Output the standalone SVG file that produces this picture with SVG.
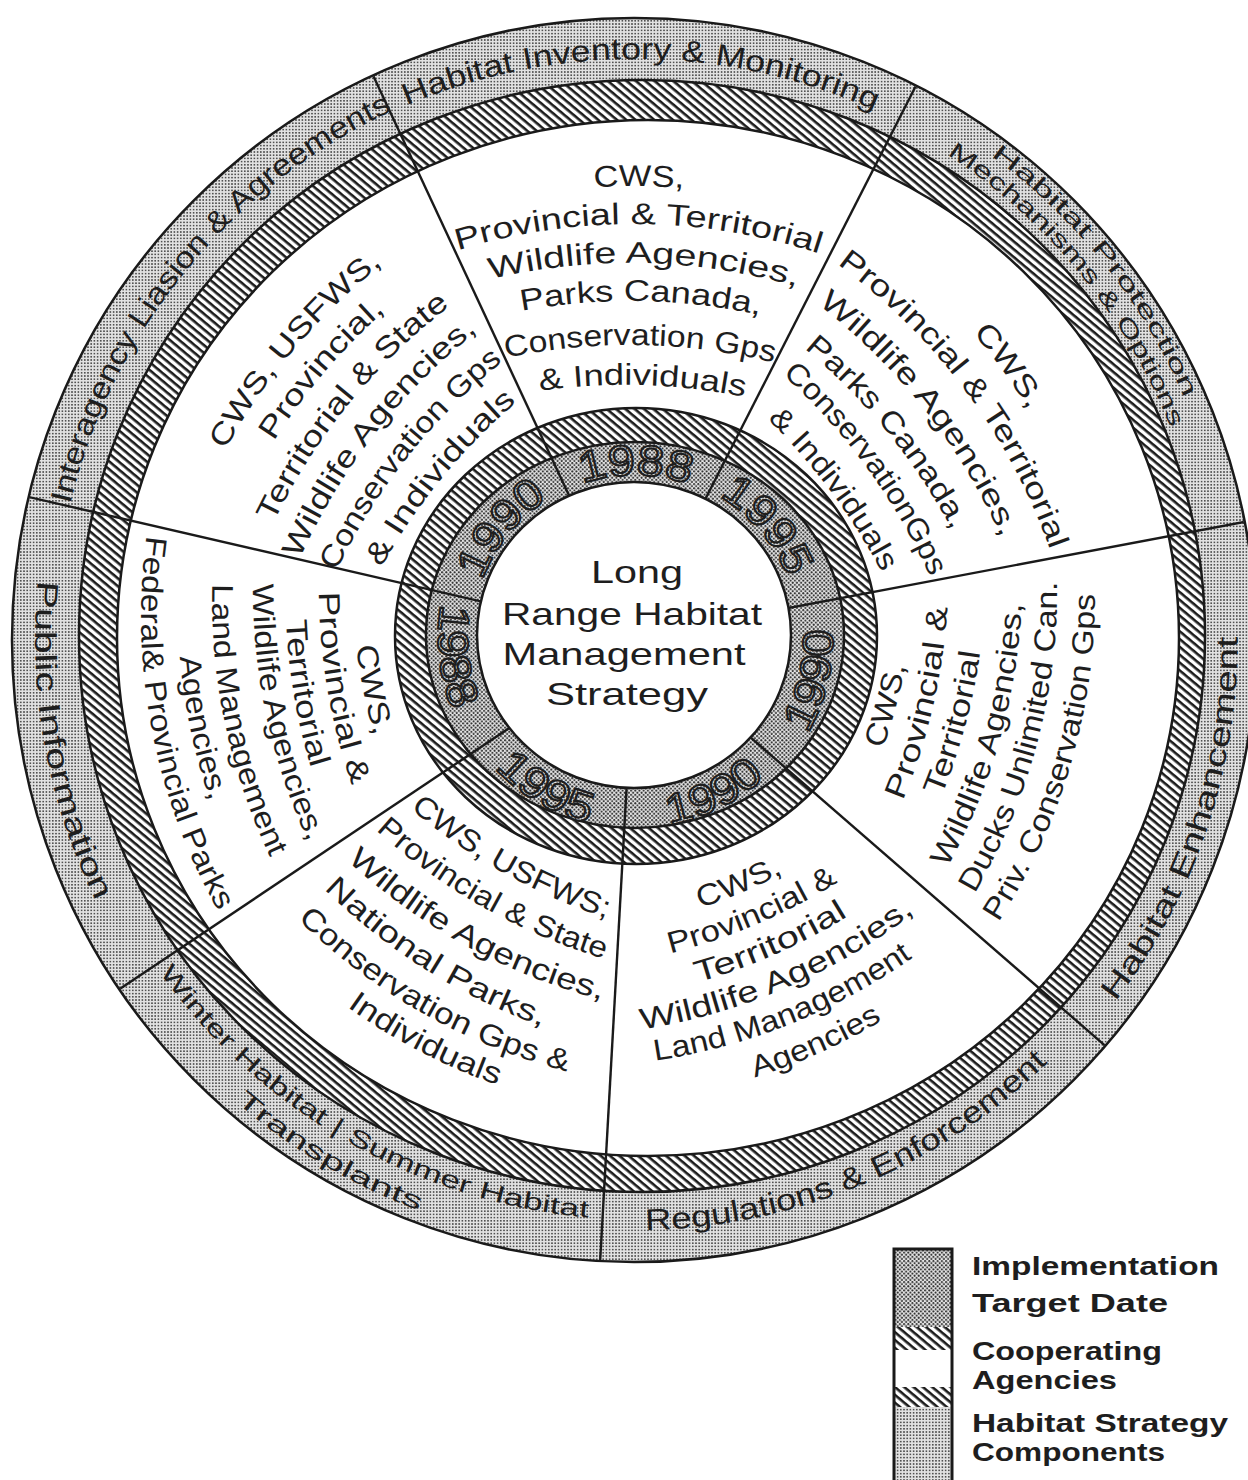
<svg xmlns="http://www.w3.org/2000/svg" width="1248" height="1480" viewBox="0 0 1248 1480">
  <style>
    text { font-family: "Liberation Sans", Arial, Helvetica, sans-serif; fill: #1e1e1e; }
    .ag { font-size: 30px; text-anchor: middle; }
    .ob { font-size: 30px; text-anchor: middle; }
    .ob2 { font-size: 23px; text-anchor: middle; }
    .ob3 { font-size: 24px; text-anchor: middle; }
    .dt { font-size: 43px; text-anchor: middle; fill: url(#dots); stroke: #1e1e1e; stroke-width: 2.1px; }
    .ctr { font-size: 32px; text-anchor: middle; }
    .lg { font-size: 26px; font-weight: bold; }
    .edge { stroke: #1a1a1a; stroke-width: 2.5; }
    .rad { stroke: #1a1a1a; stroke-width: 2.4; fill: none; }
  </style>
  <defs>
    <!-- screen tones -->
    <pattern id="hatch" width="6" height="6" patternUnits="userSpaceOnUse" patternTransform="rotate(40)">
      <rect width="6" height="6" fill="#ffffff"/>
      <rect width="6" height="2.6" fill="#1c1c1c"/>
    </pattern>
    <pattern id="dots" width="4.2" height="4.2" patternUnits="userSpaceOnUse">
      <rect width="4.2" height="4.2" fill="#e6e6e6"/>
      <circle cx="1.05" cy="1.05" r="1" fill="#2a2a2a"/>
      <circle cx="3.15" cy="3.15" r="1" fill="#2a2a2a"/>
    </pattern>
    <pattern id="fine" width="3.2" height="3.2" patternUnits="userSpaceOnUse">
      <rect width="3.2" height="3.2" fill="#e2e2e2"/>
      <circle cx="1.6" cy="1.6" r="0.88" fill="#2e2e2e"/>
    </pattern>
    <clipPath id="clipOuter">
      <circle cx="634" cy="640" r="621"/>
    </clipPath>
    <!-- baseline arcs: midpoint at the origin, placed by each text's transform -->
    <path id="inCW" d="M -385.7 140.4 A 600 600 0 0 1 385.7 140.4"/>
    <path id="inCCW" d="M -385.7 -140.4 A 600 600 0 0 0 385.7 -140.4"/>
    <path id="dCW" d="M -142 82 A 164 164 0 0 1 142 82"/>
    <path id="dCCW" d="M -147.8 -68.9 A 193 193 0 0 0 147.8 -68.9"/>
    <path id="oCW" d="M -376 136.9 A 585 585 0 0 1 376 136.9"/>
    <path id="oCCW" d="M -382.5 -139.2 A 595 595 0 0 0 382.5 -139.2"/>
  </defs>

  <rect width="1248" height="1480" fill="#ffffff"/>

  <!-- concentric bands -->
  <g id="rings">
    <circle class="edge" cx="634" cy="640" r="622" fill="url(#fine)"/>
    <ellipse class="edge" cx="642" cy="636" rx="563" ry="556" fill="url(#hatch)"/>
    <ellipse class="edge" cx="648" cy="638" rx="531" ry="518" fill="#ffffff"/>
    <ellipse class="edge" cx="636" cy="636" rx="241" ry="228" fill="url(#hatch)"/>
    <ellipse class="edge" cx="635" cy="635" rx="209" ry="193" fill="url(#dots)"/>
  </g>

  <!-- sector dividers -->
  <g id="connectors" clip-path="url(#clipOuter)">
    <line class="rad" x1="584.3" y1="528.2" x2="364.5" y2="57"/>
    <line class="rad" x1="689.5" y1="530.1" x2="925.6" y2="66.8"/>
    <line class="rad" x1="752.9" y1="614.7" x2="1263.9" y2="518.2"/>
    <line class="rad" x1="725.6" y1="715.7" x2="1118" y2="1056.9"/>
    <line class="rad" x1="628.3" y1="756.8" x2="599.3" y2="1276"/>
    <line class="rad" x1="541.9" y1="706.2" x2="60" y2="1029"/>
    <line class="rad" x1="518.1" y1="610" x2="11.4" y2="493"/>
  </g>

  <!-- hub -->
  <g id="hub">
    <ellipse class="edge" cx="634" cy="635" rx="157" ry="153" fill="#ffffff"/>
    <text class="ctr" x="637" y="583" textLength="92" lengthAdjust="spacingAndGlyphs">Long</text>
    <text class="ctr" x="632" y="625" textLength="260" lengthAdjust="spacingAndGlyphs">Range Habitat</text>
    <text class="ctr" x="624" y="665" textLength="243" lengthAdjust="spacingAndGlyphs">Management</text>
    <text class="ctr" x="627" y="705" textLength="162" lengthAdjust="spacingAndGlyphs">Strategy</text>
  </g>

  <!-- top: Habitat Inventory & Monitoring -->
  <g id="sector-inventory">
    <text class="ob" transform="translate(635 638) rotate(0.6) translate(0 -579)"><textPath href="#oCW" startOffset="50%" textLength="481" lengthAdjust="spacingAndGlyphs">Habitat Inventory &amp; Monitoring</textPath></text>
    <text class="ag" transform="translate(635 637) rotate(0.5) translate(0 -451)"><textPath href="#inCW" startOffset="50%" textLength="90" lengthAdjust="spacingAndGlyphs">CWS,</textPath></text>
    <text class="ag" transform="translate(635 637) rotate(0.5) translate(0 -413)"><textPath href="#inCW" startOffset="50%" textLength="367" lengthAdjust="spacingAndGlyphs">Provincial &amp; Territorial</textPath></text>
    <text class="ag" transform="translate(635 637) rotate(1.4) translate(0 -374)"><textPath href="#inCW" startOffset="50%" textLength="310" lengthAdjust="spacingAndGlyphs">Wildlife Agencies,</textPath></text>
    <text class="ag" transform="translate(635 637) rotate(1) translate(0 -336)"><textPath href="#inCW" startOffset="50%" textLength="240" lengthAdjust="spacingAndGlyphs">Parks Canada,</textPath></text>
    <text class="ag" transform="translate(635 637) rotate(1) translate(0 -292)"><textPath href="#inCW" startOffset="50%" textLength="270" lengthAdjust="spacingAndGlyphs">Conservation Gps</textPath></text>
    <text class="ag" transform="translate(635 637) rotate(1.7) translate(0 -252)"><textPath href="#inCW" startOffset="50%" textLength="206" lengthAdjust="spacingAndGlyphs">&amp; Individuals</textPath></text>
    <text class="dt" transform="translate(635 637) rotate(0.3) translate(0 -162)"><textPath href="#dCW" startOffset="50%" textLength="108" lengthAdjust="spacingAndGlyphs">1988</textPath></text>
  </g>

  <!-- upper right: Habitat Protection Mechanisms & Options -->
  <g id="sector-protection">
    <text class="ob2" transform="translate(635 638) rotate(51.4) translate(0 -600)"><textPath href="#oCW" startOffset="50%" textLength="314" lengthAdjust="spacingAndGlyphs">Habitat Protection</textPath></text>
    <text class="ob2" transform="translate(635 638) rotate(50.7) translate(0 -575)"><textPath href="#oCW" startOffset="50%" textLength="359" lengthAdjust="spacingAndGlyphs">Mechanisms &amp; Options</textPath></text>
    <text class="ag" transform="translate(635 637) rotate(54) translate(0 -454)"><textPath href="#inCW" startOffset="50%" textLength="95" lengthAdjust="spacingAndGlyphs">CWS,</textPath></text>
    <text class="ag" transform="translate(635 637) rotate(53.3) translate(0 -412)"><textPath href="#inCW" startOffset="50%" textLength="362" lengthAdjust="spacingAndGlyphs">Provincial &amp; Territorial</textPath></text>
    <text class="ag" transform="translate(635 637) rotate(51.8) translate(0 -368)"><textPath href="#inCW" startOffset="50%" textLength="300" lengthAdjust="spacingAndGlyphs">Wildlife Agencies,</textPath></text>
    <text class="ag" transform="translate(635 637) rotate(50.9) translate(0 -325)"><textPath href="#inCW" startOffset="50%" textLength="236" lengthAdjust="spacingAndGlyphs">Parks Canada,</textPath></text>
    <text class="ag" transform="translate(635 637) rotate(53.9) translate(0 -287)"><textPath href="#inCW" startOffset="50%" textLength="252" lengthAdjust="spacingAndGlyphs">ConservationGps</textPath></text>
    <text class="ag" transform="translate(635 637) rotate(53.3) translate(0 -244)"><textPath href="#inCW" startOffset="50%" textLength="192" lengthAdjust="spacingAndGlyphs">&amp; Individuals</textPath></text>
    <text class="dt" transform="translate(635 637) rotate(49.8) translate(0 -164)"><textPath href="#dCW" startOffset="50%" textLength="108" lengthAdjust="spacingAndGlyphs">1995</textPath></text>
  </g>

  <!-- right: Habitat Enhancement -->
  <g id="sector-enhancement">
    <text class="ob" transform="translate(635 638) rotate(-71.5) translate(0 603)"><textPath href="#oCCW" startOffset="50%" textLength="392" lengthAdjust="spacingAndGlyphs">Habitat Enhancement</textPath></text>
    <text class="ag" transform="translate(635 637) rotate(-74.8) translate(0 270)"><textPath href="#inCCW" startOffset="50%" textLength="86" lengthAdjust="spacingAndGlyphs">CWS,</textPath></text>
    <text class="ag" transform="translate(635 637) rotate(-77) translate(0 306)"><textPath href="#inCCW" startOffset="50%" textLength="200" lengthAdjust="spacingAndGlyphs">Provincial &amp;</textPath></text>
    <text class="ag" transform="translate(635 637) rotate(-75) translate(0 342)"><textPath href="#inCCW" startOffset="50%" textLength="150" lengthAdjust="spacingAndGlyphs">Territorial</textPath></text>
    <text class="ag" transform="translate(635 637) rotate(-74.2) translate(0 379)"><textPath href="#inCCW" startOffset="50%" textLength="277" lengthAdjust="spacingAndGlyphs">Wildlife Agencies,</textPath></text>
    <text class="ag" transform="translate(635 637) rotate(-75.2) translate(0 416)"><textPath href="#inCCW" startOffset="50%" textLength="327" lengthAdjust="spacingAndGlyphs">Ducks Unlimited Can.</textPath></text>
    <text class="ag" transform="translate(635 637) rotate(-73.6) translate(0 454)"><textPath href="#inCCW" startOffset="50%" textLength="347" lengthAdjust="spacingAndGlyphs">Priv. Conservation Gps</textPath></text>
    <text class="dt" transform="translate(635 637) rotate(-76.4) translate(0 198)"><textPath href="#dCCW" startOffset="50%" textLength="108" lengthAdjust="spacingAndGlyphs">1990</textPath></text>
  </g>

  <!-- lower right: Regulations & Enforcement -->
  <g id="sector-regulations">
    <text class="ob" transform="translate(635 638) rotate(-22.6) translate(0 592)"><textPath href="#oCCW" startOffset="50%" textLength="446" lengthAdjust="spacingAndGlyphs">Regulations &amp; Enforcement</textPath></text>
    <text class="ag" transform="translate(635 637) rotate(-22.8) translate(0 277)"><textPath href="#inCCW" startOffset="50%" textLength="90" lengthAdjust="spacingAndGlyphs">CWS,</textPath></text>
    <text class="ag" transform="translate(635 637) rotate(-23) translate(0 312)"><textPath href="#inCCW" startOffset="50%" textLength="183" lengthAdjust="spacingAndGlyphs">Provincial &amp;</textPath></text>
    <text class="ag" transform="translate(635 637) rotate(-23.8) translate(0 347)"><textPath href="#inCCW" startOffset="50%" textLength="165" lengthAdjust="spacingAndGlyphs">Territorial</textPath></text>
    <text class="ag" transform="translate(635 637) rotate(-23.2) translate(0 382)"><textPath href="#inCCW" startOffset="50%" textLength="300" lengthAdjust="spacingAndGlyphs">Wildlife Agencies,</textPath></text>
    <text class="ag" transform="translate(635 637) rotate(-21.8) translate(0 417)"><textPath href="#inCCW" startOffset="50%" textLength="280" lengthAdjust="spacingAndGlyphs">Land Management</textPath></text>
    <text class="ag" transform="translate(635 637) rotate(-24) translate(0 455)"><textPath href="#inCCW" startOffset="50%" textLength="140" lengthAdjust="spacingAndGlyphs">Agencies</textPath></text>
    <text class="dt" transform="translate(635 637) rotate(-26.6) translate(0 191)"><textPath href="#dCCW" startOffset="50%" textLength="108" lengthAdjust="spacingAndGlyphs">1990</textPath></text>
  </g>

  <!-- lower left: Winter Habitat | Summer Habitat, Transplants -->
  <g id="sector-seasonal">
    <text class="ob3" transform="translate(635 638) rotate(29.75) translate(0 580)"><textPath href="#oCCW" startOffset="50%" textLength="509" lengthAdjust="spacingAndGlyphs">Winter Habitat | Summer Habitat</textPath></text>
    <text class="ob3" transform="translate(635 638) rotate(30.7) translate(0 612)"><textPath href="#oCCW" startOffset="50%" textLength="214" lengthAdjust="spacingAndGlyphs">Transplants</textPath></text>
    <text class="ag" transform="translate(635 637) rotate(29.2) translate(0 270)"><textPath href="#inCCW" startOffset="50%" textLength="226" lengthAdjust="spacingAndGlyphs">CWS, USFWS;</textPath></text>
    <text class="ag" transform="translate(635 637) rotate(29.4) translate(0 310)"><textPath href="#inCCW" startOffset="50%" textLength="264" lengthAdjust="spacingAndGlyphs">Provincial &amp; State</textPath></text>
    <text class="ag" transform="translate(635 637) rotate(28.7) translate(0 352)"><textPath href="#inCCW" startOffset="50%" textLength="293" lengthAdjust="spacingAndGlyphs">Wildlife Agencies,</textPath></text>
    <text class="ag" transform="translate(635 637) rotate(32.2) translate(0 393)"><textPath href="#inCCW" startOffset="50%" textLength="260" lengthAdjust="spacingAndGlyphs">National Parks,</textPath></text>
    <text class="ag" transform="translate(635 637) rotate(29.5) translate(0 432)"><textPath href="#inCCW" startOffset="50%" textLength="313" lengthAdjust="spacingAndGlyphs">Conservation Gps &amp;</textPath></text>
    <text class="ag" transform="translate(635 637) rotate(27.5) translate(0 467)"><textPath href="#inCCW" startOffset="50%" textLength="170" lengthAdjust="spacingAndGlyphs">Individuals</textPath></text>
    <text class="dt" transform="translate(635 637) rotate(30.5) translate(0 192)"><textPath href="#dCCW" startOffset="50%" textLength="110" lengthAdjust="spacingAndGlyphs">1995</textPath></text>
  </g>

  <!-- left: Public Information -->
  <g id="sector-public">
    <text class="ob" transform="translate(635 638) rotate(79.75) translate(0 600)"><textPath href="#oCCW" startOffset="50%" textLength="330" lengthAdjust="spacingAndGlyphs">Public Information</textPath></text>
    <text class="ag" transform="translate(635 637) rotate(78.7) translate(0 277)"><textPath href="#inCCW" startOffset="50%" textLength="92" lengthAdjust="spacingAndGlyphs">CWS,</textPath></text>
    <text class="ag" transform="translate(635 637) rotate(80.2) translate(0 312)"><textPath href="#inCCW" startOffset="50%" textLength="197" lengthAdjust="spacingAndGlyphs">Provincial &amp;</textPath></text>
    <text class="ag" transform="translate(635 637) rotate(80.4) translate(0 346)"><textPath href="#inCCW" startOffset="50%" textLength="151" lengthAdjust="spacingAndGlyphs">Territorial</textPath></text>
    <text class="ag" transform="translate(635 637) rotate(77.9) translate(0 377)"><textPath href="#inCCW" startOffset="50%" textLength="266" lengthAdjust="spacingAndGlyphs">Wildlife Agencies,</textPath></text>
    <text class="ag" transform="translate(635 637) rotate(78) translate(0 419)"><textPath href="#inCCW" startOffset="50%" textLength="282" lengthAdjust="spacingAndGlyphs">Land Management</textPath></text>
    <text class="ag" transform="translate(635 637) rotate(78.2) translate(0 454)"><textPath href="#inCCW" startOffset="50%" textLength="148" lengthAdjust="spacingAndGlyphs">Agencies,</textPath></text>
    <text class="ag" transform="translate(635 637) rotate(79.2) translate(0 492)"><textPath href="#inCCW" startOffset="50%" textLength="389" lengthAdjust="spacingAndGlyphs">Federal&amp; Provincial Parks</textPath></text>
    <text class="dt" transform="translate(635 637) rotate(83.9) translate(0 197)"><textPath href="#dCCW" startOffset="50%" textLength="108" lengthAdjust="spacingAndGlyphs">1988</textPath></text>
  </g>

  <!-- upper left: Interagency Liasion & Agreements -->
  <g id="sector-liaison">
    <text class="ob" transform="translate(635 638) rotate(-50.7) translate(0 -580)"><textPath href="#oCW" startOffset="50%" textLength="526" lengthAdjust="spacingAndGlyphs">Interagency Liasion &amp; Agreements</textPath></text>
    <text class="ag" transform="translate(635 637) rotate(-49.8) translate(0 -446)"><textPath href="#inCW" startOffset="50%" textLength="245" lengthAdjust="spacingAndGlyphs">CWS, USFWS,</textPath></text>
    <text class="ag" transform="translate(635 637) rotate(-49.5) translate(0 -408)"><textPath href="#inCW" startOffset="50%" textLength="172" lengthAdjust="spacingAndGlyphs">Provincial,</textPath></text>
    <text class="ag" transform="translate(635 637) rotate(-50.8) translate(0 -369)"><textPath href="#inCW" startOffset="50%" textLength="282" lengthAdjust="spacingAndGlyphs">Territorial &amp; State</textPath></text>
    <text class="ag" transform="translate(635 637) rotate(-52.1) translate(0 -330)"><textPath href="#inCW" startOffset="50%" textLength="292" lengthAdjust="spacingAndGlyphs">Wildlife Agencies,</textPath></text>
    <text class="ag" transform="translate(635 637) rotate(-51.6) translate(0 -290)"><textPath href="#inCW" startOffset="50%" textLength="270" lengthAdjust="spacingAndGlyphs">Conservation Gps</textPath></text>
    <text class="ag" transform="translate(635 637) rotate(-50.7) translate(0 -250)"><textPath href="#inCW" startOffset="50%" textLength="215" lengthAdjust="spacingAndGlyphs">&amp; Individuals</textPath></text>
    <text class="dt" transform="translate(635 637) rotate(-51) translate(0 -163)"><textPath href="#dCW" startOffset="50%" textLength="106" lengthAdjust="spacingAndGlyphs">1990</textPath></text>
  </g>

  <!-- key -->
  <g id="legend">
    <rect x="894" y="1249" width="58" height="78" fill="url(#dots)"/>
    <rect x="894" y="1327" width="58" height="23" fill="url(#hatch)"/>
    <rect x="894" y="1350" width="58" height="37" fill="#ffffff"/>
    <rect x="894" y="1387" width="58" height="20" fill="url(#hatch)"/>
    <rect x="894" y="1407" width="58" height="80" fill="url(#fine)"/>
    <rect x="894" y="1249" width="58" height="240" fill="none" stroke="#1a1a1a" stroke-width="3"/>
    <text class="lg" x="972" y="1275" textLength="247" lengthAdjust="spacingAndGlyphs">Implementation</text>
    <text class="lg" x="972" y="1312" textLength="196" lengthAdjust="spacingAndGlyphs">Target  Date</text>
    <text class="lg" x="972" y="1360" textLength="190" lengthAdjust="spacingAndGlyphs">Cooperating</text>
    <text class="lg" x="972" y="1389" textLength="145" lengthAdjust="spacingAndGlyphs">Agencies</text>
    <text class="lg" x="972" y="1432" textLength="256" lengthAdjust="spacingAndGlyphs">Habitat Strategy</text>
    <text class="lg" x="972" y="1461" textLength="193" lengthAdjust="spacingAndGlyphs">Components</text>
  </g>
</svg>
